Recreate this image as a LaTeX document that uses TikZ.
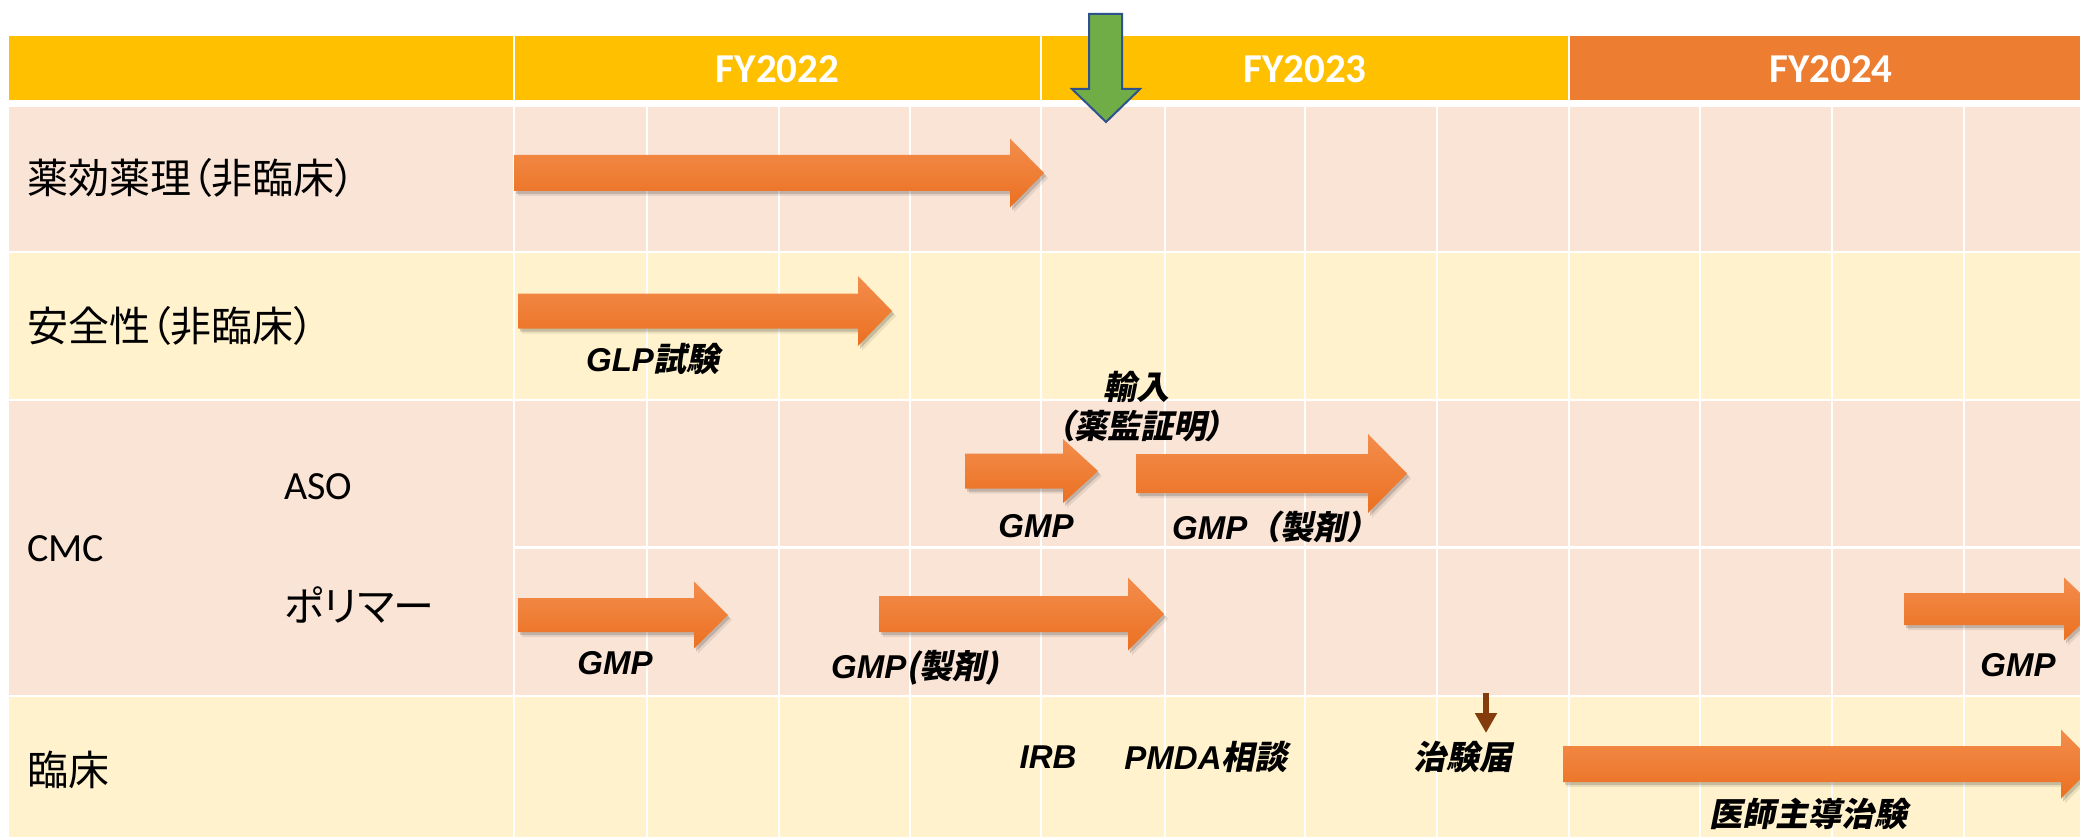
\documentclass[tikz,border=0pt]{standalone}
\usepackage{fontspec}
\usetikzlibrary{arrows.meta}
\newfontfamily\cjk{Noto Sans CJK JP}[RawFeature=+palt]
\newfontfamily\cjkbold{Noto Sans CJK JP}[FakeSlant=0.2,RawFeature=+palt]
\newfontfamily\cjkboldw{Noto Sans CJK JP}[FakeSlant=0.2]
\newfontfamily\carl{Carlito}
\newfontfamily\libs{Liberation Sans}
\newcommand\bi[1]{{\libs\bfseries\itshape #1}}
\newcommand\jb[1]{{\cjkbold\bfseries #1}}
\newcommand\jbw[1]{{\cjkboldw\bfseries #1}}
\definecolor{hdrY}{HTML}{FFC000}
\definecolor{hdrO}{HTML}{ED7D31}
\definecolor{rowP}{HTML}{FAE4D6}
\definecolor{rowY}{HTML}{FFF2CC}
\definecolor{arrT}{RGB}{243,141,76}
\definecolor{arrB}{RGB}{235,112,33}
\definecolor{grn}{HTML}{70AD47}
\definecolor{grnD}{HTML}{2F528F}
\definecolor{brn}{HTML}{843C0C}
% tail x, tip x, centre y, shaft half height, head half height, head length
\newcommand\blockarrow[6]{%
  \foreach \dx/\dy/\op in {4/5/0.08,2/3/0.16}{%
    \fill[black,opacity=\op,shift={(\dx,\dy)}] (#1,{#3-#4}) -- ({#2-#6},{#3-#4}) -- ({#2-#6},{#3-#5}) -- (#2,#3) -- ({#2-#6},{#3+#5}) -- ({#2-#6},{#3+#4}) -- (#1,{#3+#4}) -- cycle;}
  \shade[top color=arrT,bottom color=arrB] (#1,{#3-#4}) -- ({#2-#6},{#3-#4}) -- ({#2-#6},{#3-#5}) -- (#2,#3) -- ({#2-#6},{#3+#5}) -- ({#2-#6},{#3+#4}) -- (#1,{#3+#4}) -- cycle;
}
\begin{document}
\begin{tikzpicture}[x=1pt,y=-1pt,
  hdr/.style={inner sep=0,text=white,font=\carl\bfseries\fontsize{41}{48}\selectfont},
  rowlbl/.style={inner sep=0,anchor=west,font=\cjk\fontsize{41}{48}\selectfont},
  latlbl/.style={inner sep=0,anchor=west,font=\carl\fontsize{40}{48}\selectfont},
  note/.style={inner sep=0,font=\fontsize{33}{40}\selectfont},
  gridline/.style={white,line width=2.5pt}]
\useasboundingbox (0,0) rectangle (2080,837);
\fill[white] (0,0) rectangle (2080,837);
\clip (0,0) rectangle (2080,837);
% header
\fill[hdrY] (9,36) rectangle (1569,100);
\fill[hdrO] (1569,36) rectangle (2080,100);
\foreach \x in {514,1041,1569} \draw[gridline] (\x,36) -- (\x,100);
% rows
\fill[rowP] (9,107) rectangle (2080,250.5);
\fill[rowY] (9,252.5) rectangle (2080,398.5);
\fill[rowP] (9,400.5) rectangle (2080,694.5);
\fill[rowY] (9,696.5) rectangle (2080,837);
\foreach \x in {514,647,779,910,1041,1165,1305,1437,1569,1700,1832,1964}
  \draw[gridline] (\x,107) -- (\x,837);
\draw[gridline,line width=3pt] (514,547) -- (2080,547);
% header labels
\node[hdr] (fy22) at (777.5,69) {FY2022};
\node[hdr] (fy23) at (1305,69) {FY2023};
\node[hdr] (fy24) at (1831,69) {FY2024};
% row labels
\node[rowlbl] (r1) at (27,178) {薬効薬理（非臨床）};
\node[rowlbl] (r2) at (27,326) {安全性（非臨床）};
\node[latlbl] (cmc) at (27,549) {CMC};
\node[latlbl] (aso) at (284,487) {ASO};
\node[rowlbl] (poly) at (284,605) {ポリマー};
\node[rowlbl] (clin) at (27,770) {臨床};
% block arrows
\blockarrow{514}{1044}{173}{18}{34.5}{34}
\blockarrow{518}{892}{311}{17.5}{35}{34}
\blockarrow{965}{1098}{471}{17.5}{32}{35}
\blockarrow{1136}{1407}{473.5}{19.5}{39.5}{39}
\blockarrow{518}{728}{615}{17}{33.5}{34}
\blockarrow{879}{1164}{614}{18}{36.5}{36}
\blockarrow{1904}{2097}{609}{16}{31.5}{33}
\blockarrow{1563}{2095}{764}{18}{34.5}{34}
% green milestone arrow
\filldraw[fill=grn,draw=grnD,line width=2pt,line join=miter]
  (1089,14) -- (1122,14) -- (1122,89) -- (1140,89) -- (1106,122) -- (1072,89) -- (1089,89) -- cycle;
% brown small arrow
\coordinate (bt) at (1486,693);
\coordinate (bb) at (1486,733);
\draw[brn,line width=6pt,-{Triangle[width=21pt,length=20pt]}] (bt) -- (bb);
% notes
\node[note] (glp) at (653,359) {\bi{GLP}\jb{試験}};
\node[note] (imp) at (1136,387) {\jb{輸入}};
\node[note] (cert) at (1140,426) {\jb{（薬監証明）}};
\node[note] (gmpa) at (1036,526) {\bi{GMP}};
\node[note,anchor=west] (gmpb) at (1172,527) {\bi{GMP}\jbw{（製剤）}};
\node[note] (gmpc) at (615,663) {\bi{GMP}};
\node[note] (gmpd) at (915,668) {\bi{GMP}\jb{(製剤)}};
\node[note] (gmpe) at (2018,665) {\bi{GMP}};
\node[note] (irb) at (1048,757) {\bi{IRB}};
\node[note] (pmda) at (1206,757) {\bi{PMDA}\jb{相談}};
\node[note] (ctn) at (1463,757) {\jb{治験届}};
\node[note] (iit) at (1808,814) {\jb{医師主導治験}};
\end{tikzpicture}
\end{document}
